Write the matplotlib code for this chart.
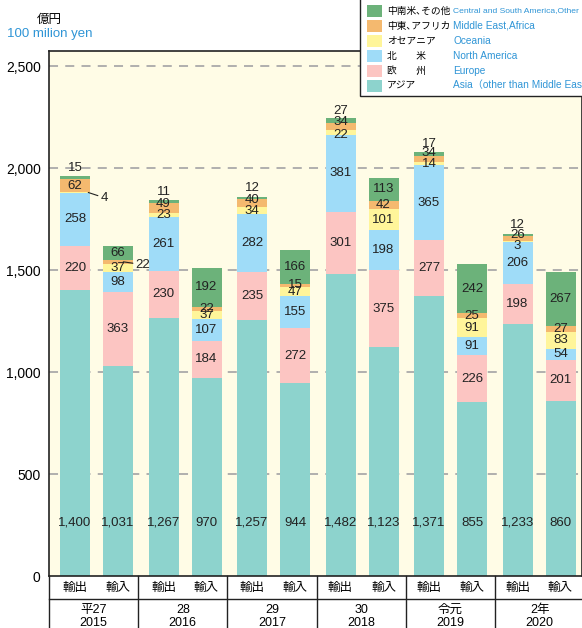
import numpy as np
import matplotlib.pyplot as plt
from matplotlib.patches import Rectangle
from matplotlib.ticker import FuncFormatter

plt.rcParams['font.family'] = ['Liberation Sans', 'Noto Sans CJK JP']

# ---------------- data ----------------
years_jp = ['平27', '28', '29', '30', '令元', '2年']
years = ['2015', '2016', '2017', '2018', '2019', '2020']
kinds = ['輸出', '輸入']

regions_jp = ['アジア', '欧　　州', '北　　米', 'オセアニア', '中東､アフリカ', '中南米､その他']
regions_en = ['Asia（other than Middle East', 'Europe', 'North America', 'Oceania',
              'Middle East,Africa', 'Central and South America,Other']
colors = ['#8dd3cd', '#fcc5c2', '#9fdcf8', '#fff59a', '#f4b96f', '#6cb27a']

# export (輸出), stacked bottom -> top: Asia, Europe, N.America, Oceania, ME/Africa, Other
exp_asia    = [1400, 1267, 1257, 1482, 1371, 1233]
exp_europe  = [220, 230, 235, 301, 277, 198]
exp_namer   = [258, 261, 282, 381, 365, 206]
exp_oceania = [4, 23, 34, 22, 14, 3]
exp_meast   = [62, 49, 40, 34, 34, 26]
exp_other   = [15, 11, 12, 27, 17, 12]

# import (輸入)
imp_asia    = [1031, 970, 944, 1123, 855, 860]
imp_europe  = [363, 184, 272, 375, 226, 201]
imp_namer   = [98, 107, 155, 198, 91, 54]
imp_oceania = [37, 37, 47, 101, 91, 83]
imp_meast   = [22, 22, 15, 42, 25, 27]
imp_other   = [66, 192, 166, 113, 242, 267]

exports = np.array([exp_asia, exp_europe, exp_namer, exp_oceania, exp_meast, exp_other])
imports = np.array([imp_asia, imp_europe, imp_namer, imp_oceania, imp_meast, imp_other])

# ---------------- layout ----------------
W, H = 582, 628
fig = plt.figure(figsize=(W / 100, H / 100), dpi=100)
fig.patch.set_facecolor('white')

ax_l, ax_t, ax_b = 49, 51, 576
ax = fig.add_axes([ax_l / W, (H - ax_b) / H, (W - ax_l) / W, (ax_b - ax_t) / H])
ax.set_facecolor('#fffce6')

grp = 88.5                         # pixels per year group
ax.set_xlim(0, (W - ax_l) / grp)
ax.set_ylim(0, 2500 + (576 - 51 - 510) / 0.204)

for v in range(500, 2501, 500):
    ax.axhline(v, color='#aaaaaa', lw=1.3, ls=(0, (5, 4)), zorder=0)

bw = 30 / grp
off = {0: 26 / grp, 1: 69 / grp}   # bar centre within the group
x_exp = np.arange(6) + off[0]
x_imp = np.arange(6) + off[1]

# nudges (points, up positive) for crowded labels on the export bars
nudge = {(1, 4): 3, (2, 4): 2, (3, 3): -2, (3, 4): 3, (4, 4): 4, (5, 3): -3, (5, 4): 3}

def draw_stack(xs, data, is_export):
    bottoms = np.zeros(6)
    for r in range(6):
        ax.bar(xs, data[r], bw, bottom=bottoms, color=colors[r], zorder=2, linewidth=0)
        for i in range(6):
            val = data[r][i]
            yc = bottoms[i] + val / 2
            lbl = f'{val:,}'
            if r == 0:
                ax.text(xs[i], 260, lbl, ha='center', va='center', fontsize=9.5, color='#222222', zorder=3)
            elif is_export and r == 5:
                ax.annotate(lbl, (xs[i], yc), xytext=(0, 7), textcoords='offset points',
                            ha='center', va='center', fontsize=9.5, color='#222222', zorder=3)
            elif is_export and r == 3 and i == 0:
                ax.annotate(lbl, xy=(xs[i] + 0.15, yc), xytext=(xs[i] + 0.29, yc - 26),
                            ha='left', va='center', fontsize=9.5, color='#222222', zorder=3,
                            arrowprops=dict(arrowstyle='-', lw=0.8, color='#222222',
                                            shrinkA=0, shrinkB=0))
            elif (not is_export) and r == 4 and i == 0:
                ax.annotate(lbl, xy=(xs[i] + 0.06, yc), xytext=(xs[i] + 0.2, yc - 14),
                            ha='left', va='center', fontsize=9.5, color='#222222', zorder=3,
                            arrowprops=dict(arrowstyle='-', lw=0.8, color='#222222',
                                            shrinkA=0, shrinkB=0))
            else:
                dy = nudge.get((i, r), 0) if is_export else 0
                ax.annotate(lbl, (xs[i], yc), xytext=(0, dy), textcoords='offset points',
                            ha='center', va='center', fontsize=9.5, color='#222222', zorder=3)
        bottoms = bottoms + data[r]

draw_stack(x_exp, exports, True)
draw_stack(x_imp, imports, False)

ax.set_yticks(range(0, 2501, 500))
ax.yaxis.set_major_formatter(FuncFormatter(lambda v, p: f'{int(v):,}'))
ax.tick_params(axis='y', length=0, pad=6, labelsize=10)
ax.set_xticks([])
for s in ax.spines.values():
    s.set_color('#222222')
    s.set_linewidth(1.2)

# ---------------- category table under the axes ----------------
tr = ax.get_xaxis_transform()
ah = ax_b - ax_t
row1 = -23 / ah
bot = -(H - ax_b) / ah
ax.plot([0, 7], [row1, row1], transform=tr, color='#222222', lw=1, clip_on=False)
for i in range(7):
    xs = i * 1.008
    ax.plot([xs, xs], [0, bot], transform=tr, color='#222222', lw=1, clip_on=False)
for i in range(6):
    ax.text(x_exp[i], -12 / ah, kinds[0], transform=tr, ha='center', va='center', fontsize=9)
    ax.text(x_imp[i], -12 / ah, kinds[1], transform=tr, ha='center', va='center', fontsize=9)
    xm = i * 1.008 + 0.504
    ax.text(xm, -34 / ah, years_jp[i], transform=tr, ha='center', va='center', fontsize=9)
    ax.text(xm, -47 / ah, years[i], transform=tr, ha='center', va='center', fontsize=9)

# ---------------- unit labels ----------------
fig.text(49 / W, 1 - 20 / H, '億円', ha='center', va='center', fontsize=9)
fig.text(7 / W, 1 - 34 / H, '100 milion yen', ha='left', va='center', fontsize=9.5, color='#2f95d6')

# ---------------- legend box ----------------
fig.add_artist(Rectangle((360 / W, 1 - 96 / H), 240 / W, 110 / H, transform=fig.transFigure,
                         facecolor='white', edgecolor='#222222', lw=1, zorder=10))
rows_y = [85.5, 70.5, 56, 41, 26, 11]
for r in range(6):
    y = rows_y[r]
    fig.add_artist(Rectangle((367 / W, 1 - (y + 6) / H), 15 / W, 12 / H, transform=fig.transFigure,
                             facecolor=colors[r], edgecolor='none', zorder=11))
    fig.text(387 / W, 1 - y / H, regions_jp[r], ha='left', va='center', fontsize=7, zorder=12)
    fig.text(453 / W, 1 - y / H, regions_en[r], ha='left', va='center',
             fontsize=6.1 if r == 5 else 7.3, color='#2f95d6', zorder=12)

fig.savefig('out.png', dpi=100)
